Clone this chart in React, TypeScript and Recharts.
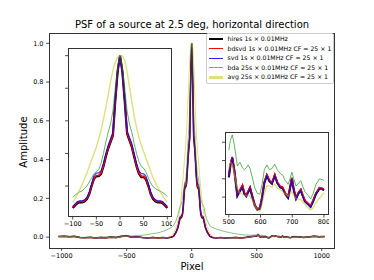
import React from 'react';
import { LineChart, Line, XAxis, YAxis } from 'recharts';

const FONT = '"DejaVu Sans", sans-serif';

// zoomed central peak (pixel -100 .. 100)
const peakX = [
  -100, -95, -90, -85, -80, -75, -70, -65, -60, -55, -50, -45, -40, -35, -30, -25, -20, -15, -10, -5, 0,
  5, 10, 15, 20, 25, 30, 35, 40, 45, 50, 55, 60, 65, 70, 75, 80, 85, 90, 95, 100,
];
const peakHires = [
  0.065, 0.08, 0.095, 0.1, 0.1, 0.105, 0.12, 0.15, 0.2, 0.245, 0.26, 0.26, 0.275, 0.32, 0.38, 0.43, 0.47, 0.51, 0.72, 0.9, 1.0,
  0.9, 0.72, 0.52, 0.48, 0.44, 0.38, 0.32, 0.275, 0.255, 0.255, 0.24, 0.2, 0.15, 0.12, 0.105, 0.1, 0.1, 0.095, 0.08, 0.065,
];
const peakBdsvd = [
  0.07, 0.085, 0.1, 0.105, 0.105, 0.11, 0.125, 0.155, 0.205, 0.25, 0.265, 0.265, 0.28, 0.325, 0.385, 0.435, 0.475, 0.515, 0.725, 0.905, 1.0,
  0.905, 0.725, 0.525, 0.485, 0.445, 0.385, 0.325, 0.28, 0.26, 0.26, 0.245, 0.205, 0.155, 0.125, 0.11, 0.105, 0.105, 0.1, 0.085, 0.07,
];
const peakSvd = [
  0.075, 0.09, 0.105, 0.11, 0.11, 0.115, 0.13, 0.165, 0.215, 0.265, 0.28, 0.28, 0.295, 0.34, 0.4, 0.45, 0.49, 0.53, 0.73, 0.905, 1.0,
  0.905, 0.73, 0.54, 0.5, 0.46, 0.4, 0.34, 0.295, 0.275, 0.275, 0.26, 0.215, 0.165, 0.13, 0.115, 0.11, 0.11, 0.105, 0.09, 0.075,
];
const peakBda = [
  0.13, 0.145, 0.155, 0.165, 0.17, 0.185, 0.2, 0.225, 0.25, 0.275, 0.29, 0.3, 0.34, 0.4, 0.47, 0.53, 0.58, 0.66, 0.8, 0.94, 1.0,
  0.94, 0.8, 0.66, 0.58, 0.53, 0.46, 0.4, 0.35, 0.32, 0.31, 0.285, 0.25, 0.22, 0.195, 0.185, 0.175, 0.17, 0.16, 0.15, 0.135,
];
const peakAvg = [
  0.1, 0.125, 0.15, 0.18, 0.21, 0.245, 0.28, 0.32, 0.36, 0.4, 0.44, 0.49, 0.54, 0.61, 0.68, 0.76, 0.84, 0.91, 0.96, 0.99, 1.0,
  1.0, 0.97, 0.9, 0.81, 0.72, 0.63, 0.56, 0.5, 0.45, 0.41, 0.37, 0.33, 0.29, 0.25, 0.22, 0.19, 0.165, 0.14, 0.12, 0.1,
];

// zoomed sidelobes (pixel 500 .. 800)
const lobeX = [
  500, 505, 511, 518, 527, 535, 543, 549, 555, 561, 567, 575, 582, 590, 598, 605, 612, 620, 628, 636, 645,
  653, 662, 670, 678, 687, 693, 699, 705, 712, 720, 727, 733, 740, 750, 758, 766, 775, 786, 795, 800,
];
const lobeHires = [
  0.0054, 0.0087, 0.0107, 0.0069, 0.0004, 0.0017, 0.0029, 0.0009, 0.0003, 0.0014, 0.0025, -0.0001, -0.0023, -0.0034, -0.0031, -0.0001, 0.0039, 0.0059, 0.0044, 0.0037, 0.0059,
  0.0039, 0.0027, 0.0024, 0.0009, -0.0001, 0.0024, 0.0051, 0.0019, -0.0004, 0.0011, 0.0019, 0.0004, -0.0011, -0.0019, -0.0026, -0.0011, 0.0009, 0.0024, 0.0022, 0.0019,
];
const lobeBdsvd = [
  0.0056, 0.009, 0.011, 0.0072, 0.0006, 0.002, 0.0033, 0.0012, 0.0006, 0.0016, 0.0027, 0.0001, -0.0021, -0.0032, -0.0029, 0.0001, 0.0041, 0.0061, 0.0047, 0.0039, 0.0061,
  0.0041, 0.003, 0.0027, 0.0011, 0.0001, 0.0026, 0.0053, 0.0021, -0.0002, 0.0013, 0.0021, 0.0006, -0.0009, -0.0017, -0.0024, -0.0009, 0.0011, 0.0026, 0.0024, 0.0021,
];
const lobeSvd = [
  0.0055, 0.0089, 0.0109, 0.0068, 0.0003, 0.0016, 0.0028, 0.0007, 0.0, 0.0013, 0.0024, -0.0002, -0.0024, -0.0035, -0.0032, -0.0002, 0.0038, 0.0058, 0.0043, 0.0036, 0.0058,
  0.0037, 0.0026, 0.0022, 0.0006, -0.0005, 0.0022, 0.005, 0.0017, -0.0006, 0.001, 0.0018, 0.0002, -0.0013, -0.0021, -0.0028, -0.0013, 0.0008, 0.0023, 0.0021, 0.0018,
];
const lobeBda = [
  0.0128, 0.0155, 0.017, 0.014, 0.0085, 0.0095, 0.008, 0.0075, 0.008, 0.0088, 0.0078, 0.005, 0.0025, 0.001, 0.0008, 0.0035, 0.0075, 0.0088, 0.0075, 0.0078, 0.009,
  0.0075, 0.0065, 0.006, 0.0045, 0.0035, 0.005, 0.0068, 0.005, 0.003, 0.0038, 0.0045, 0.003, 0.0015, 0.0005, -0.0005, 0.001, 0.0035, 0.005, 0.0048, 0.0045,
];
const lobeAvg = [
  0.008, 0.0095, 0.009, 0.006, 0.0025, 0.001, 0.0008, 0.0005, 0.0003, 0.0005, 0.0002, -0.001, -0.0025, -0.0035, -0.0038, -0.002, 0.001, 0.003, 0.003, 0.0028, 0.0035,
  0.0025, 0.002, 0.0015, 0.0008, 0.0003, 0.0008, 0.0015, 0.0005, -0.0005, -0.0006, -0.0007, -0.0012, -0.002, -0.003, -0.0035, -0.003, -0.0015, -0.0003, 0.0006, 0.0011,
];

// rest of the full profile
const restX = [
  -1024, -980, -940, -900, -860, -820, -780, -740, -700, -660, -620, -580, -540, -500, -460, -420, -380, -340, -300, -260, -220, -190, -160, -140, -120, -105,
  105, 120, 140, 160, 190, 220, 260, 300, 340, 380, 420, 460, 490,
  820, 860, 900, 940, 980, 1023,
];
const restHires = [
  0.003, 0.005, 0.002, 0.004, -0.002, -0.003, -0.001, -0.004, -0.002, -0.003, 0.0, -0.002, 0.004, 0.006, 0.0, 0.002, -0.002, -0.004, -0.002, -0.004, -0.002, -0.004, -0.001, 0.004, 0.025, 0.05,
  0.05, 0.025, 0.004, -0.002, -0.004, -0.002, -0.004, -0.003, -0.002, -0.004, -0.001, 0.003, 0.004,
  0.002, -0.002, 0.001, 0.005, 0.002, 0.003,
];
const restBdsvd = [
  0.002, 0.004, 0.003, 0.003, -0.001, -0.003, -0.002, -0.003, -0.001, -0.004, 0.001, -0.002, 0.003, 0.006, 0.001, 0.001, -0.003, -0.004, -0.001, -0.004, -0.003, -0.003, 0.0, 0.005, 0.027, 0.052,
  0.052, 0.027, 0.005, -0.001, -0.004, -0.003, -0.003, -0.003, -0.001, -0.004, -0.002, 0.003, 0.005,
  0.002, -0.001, 0.001, 0.004, 0.003, 0.002,
];
const restSvd = [
  0.003, 0.004, 0.002, 0.003, -0.003, -0.002, -0.002, -0.004, -0.003, -0.003, 0.0, -0.003, 0.003, 0.005, 0.0, 0.002, -0.002, -0.005, -0.002, -0.003, -0.002, -0.004, -0.001, 0.005, 0.028, 0.055,
  0.055, 0.028, 0.005, -0.002, -0.004, -0.002, -0.005, -0.003, -0.002, -0.004, -0.001, 0.002, 0.004,
  0.001, -0.002, 0.001, 0.004, 0.002, 0.003,
];
const restBda = [
  0.004, 0.006, 0.004, 0.005, 0.0, -0.001, 0.0, -0.002, 0.0, 0.001, 0.003, 0.002, 0.006, 0.009, 0.006, 0.009, 0.01, 0.013, 0.018, 0.022, 0.03, 0.038, 0.048, 0.06, 0.085, 0.115,
  0.115, 0.085, 0.058, 0.05, 0.042, 0.035, 0.028, 0.022, 0.017, 0.013, 0.011, 0.01, 0.011,
  0.004, 0.0, 0.003, 0.007, 0.004, 0.004,
];
const restAvg = [
  0.003, 0.004, 0.001, 0.003, -0.002, -0.004, -0.002, -0.004, -0.003, -0.003, -0.001, -0.003, 0.002, 0.004, -0.001, 0.001, -0.003, -0.004, -0.003, -0.004, -0.003, -0.003, 0.004, 0.018, 0.05, 0.085,
  0.085, 0.05, 0.018, 0.003, -0.003, -0.003, -0.004, -0.004, -0.003, -0.004, -0.002, 0.002, 0.006,
  0.001, -0.002, 0.0, 0.004, 0.002, 0.002,
];

const mainTicksX = [-1000, -500, 0, 500, 1000];
const mainTicksY = [0, 0.2, 0.4, 0.6, 0.8, 1.0];
const peakTicksX = [-100, -50, 0, 50, 100];
const peakTicksY = [0.2, 0.4, 0.6, 0.8, 1.0];
const lobeTicksX = [500, 600, 700, 800];
const lobeTicksY = [0, 0.005, 0.01, 0.015];

const series = [
  { key: 'hires', label: 'hires 1s × 0.01MHz', color: '#000000', opacity: 1, w: 1.5, wIn: 2.2 },
  { key: 'bdsvd', label: 'bdsvd 1s × 0.01MHz CF = 25 × 1', color: '#ff0000', opacity: 1, w: 1.2, wIn: 1.6 },
  { key: 'svd', label: 'svd 1s × 0.01MHz CF = 25 × 1', color: '#0000ff', opacity: 0.85, w: 0.9, wIn: 1.1 },
  { key: 'bda', label: 'bda 25s × 0.01MHz CF = 25 × 1', color: '#008000', opacity: 0.6, w: 0.8, wIn: 1 },
  { key: 'avg', label: 'avg 25s × 0.01MHz CF = 25 × 1', color: '#bfbf00', opacity: 0.5, w: 1, wIn: 1.4 },
];

const buildRows = (xs: number[], h: number[], r: number[], s: number[], g: number[], a: number[]) =>
  xs.map((x, i) => ({ x, hires: h[i], bdsvd: r[i], svd: s[i], bda: g[i], avg: a[i] }));

const peakRows = buildRows(peakX, peakHires, peakBdsvd, peakSvd, peakBda, peakAvg);
const lobeRows = buildRows(lobeX, lobeHires, lobeBdsvd, lobeSvd, lobeBda, lobeAvg);
const restRows = buildRows(restX, restHires, restBdsvd, restSvd, restBda, restAvg);
const mainRows = [...restRows, ...peakRows, ...lobeRows].sort((p, q) => p.x - q.x);

const fmtX = (v: number) => (v < 0 ? '\u2212' + Math.abs(v) : String(v));
const tickStyle = { fontSize: 6.5, fill: '#000', fontFamily: FONT };
const tickLine = { stroke: '#222', strokeWidth: 0.8 };

const lines = (inset: boolean) =>
  series.map((s) => (
    <Line
      key={s.key}
      type="linear"
      dataKey={s.key}
      stroke={s.color}
      strokeOpacity={s.opacity}
      strokeWidth={inset ? s.wIn : s.w}
      dot={false}
      activeDot={false}
      isAnimationActive={false}
    />
  ));

const box = (left: number, top: number, width: number, height: number, fill: boolean): React.CSSProperties => ({
  position: 'absolute',
  left,
  top,
  width,
  height,
  boxSizing: 'border-box',
  border: '1px solid #333',
  background: fill ? '#fff' : 'transparent',
});

export default function App() {
  return (
    <div style={{ position: 'absolute', left: 0, top: 0, width: 374, height: 280, background: '#fff', fontFamily: FONT, overflow: 'hidden' }}>
      <LineChart width={374} height={280} data={mainRows} margin={{ top: 33, right: 39, bottom: 12, left: 19 }}>
        <XAxis
          type="number"
          dataKey="x"
          domain={[-1097, 1102]}
          ticks={mainTicksX}
          interval={0}
          tickFormatter={fmtX}
          tick={tickStyle}
          tickSize={3}
          tickMargin={2}
          height={20}
          axisLine={false}
          tickLine={tickLine}
          allowDataOverflow
        />
        <YAxis
          type="number"
          domain={[-0.056, 1.053]}
          ticks={mainTicksY}
          interval={0}
          tickFormatter={(v: number) => v.toFixed(1)}
          tick={tickStyle}
          tickSize={3}
          tickMargin={2.5}
          width={30}
          axisLine={false}
          tickLine={tickLine}
          allowDataOverflow
        />
        {lines(false)}
      </LineChart>
      <div style={box(49, 33, 286, 216, false)} />

      <div style={box(68, 48, 104, 169, true)} />
      <div style={{ position: 'absolute', left: 62, top: 48 }}>
        <LineChart width={110} height={183} data={peakRows} margin={{ top: 0, right: 0, bottom: 0, left: 0 }}>
          <XAxis
            type="number"
            dataKey="x"
            domain={[-110, 110]}
            ticks={peakTicksX}
            interval={0}
            tickFormatter={fmtX}
            tick={tickStyle}
            tickSize={2.5}
            tickMargin={1.5}
            height={14}
            axisLine={false}
            tickLine={tickLine}
            allowDataOverflow
          />
          <YAxis
            type="number"
            domain={[0.01, 1.047]}
            ticks={peakTicksY}
            interval={0}
            tickFormatter={() => ''}
            tickSize={3}
            width={6}
            axisLine={false}
            tickLine={tickLine}
            allowDataOverflow
          />
          {lines(true)}
        </LineChart>
      </div>

      <div style={box(225, 132, 104, 83, true)} />
      <div style={{ position: 'absolute', left: 219, top: 132 }}>
        <LineChart width={110} height={97} data={lobeRows} margin={{ top: 0, right: 0, bottom: 0, left: 0 }}>
          <XAxis
            type="number"
            dataKey="x"
            domain={[488, 816]}
            ticks={lobeTicksX}
            interval={0}
            tick={tickStyle}
            tickSize={2.5}
            tickMargin={1.5}
            height={14}
            axisLine={false}
            tickLine={tickLine}
            allowDataOverflow
          />
          <YAxis
            type="number"
            domain={[-0.0049, 0.0178]}
            ticks={lobeTicksY}
            interval={0}
            tickFormatter={() => ''}
            tickSize={3}
            width={6}
            axisLine={false}
            tickLine={tickLine}
            allowDataOverflow
          />
          {lines(true)}
        </LineChart>
      </div>

      <div
        style={{
          position: 'absolute',
          left: 206,
          top: 32.5,
          width: 128,
          height: 51,
          boxSizing: 'border-box',
          background: 'rgba(255,255,255,0.8)',
          border: '1px solid #ccc',
          borderRadius: 2,
        }}
      >
        {series.map((s, i) => {
          const cy = 5.5 + i * 9.6;
          const lw = s.key === 'avg' ? 2.5 : s.w + 0.3;
          return (
            <React.Fragment key={s.key}>
              <div
                style={{
                  position: 'absolute',
                  left: 2,
                  top: cy - lw / 2,
                  width: 13.5,
                  height: lw,
                  background: s.color,
                  opacity: s.opacity,
                }}
              />
              <div
                style={{
                  position: 'absolute',
                  left: 20.5,
                  top: cy - 5,
                  height: 10,
                  lineHeight: '10px',
                  fontSize: 6.2,
                  whiteSpace: 'nowrap',
                  color: '#000',
                }}
              >
                {s.label}
              </div>
            </React.Fragment>
          );
        })}
      </div>

      <div style={{ position: 'absolute', left: 49, top: 19, width: 286, textAlign: 'center', fontSize: 10, lineHeight: '12px', whiteSpace: 'nowrap' }}>
        PSF of a source at 2.5 deg, horizontal direction
      </div>
      <div
        style={{
          position: 'absolute',
          left: -26,
          top: 135.5,
          width: 100,
          height: 12,
          lineHeight: '12px',
          textAlign: 'center',
          fontSize: 10,
          transform: 'rotate(-90deg)',
        }}
      >
        Amplitude
      </div>
      <div style={{ position: 'absolute', left: 49, top: 260.5, width: 286, textAlign: 'center', fontSize: 10, lineHeight: '12px' }}>
        Pixel
      </div>
    </div>
  );
}
